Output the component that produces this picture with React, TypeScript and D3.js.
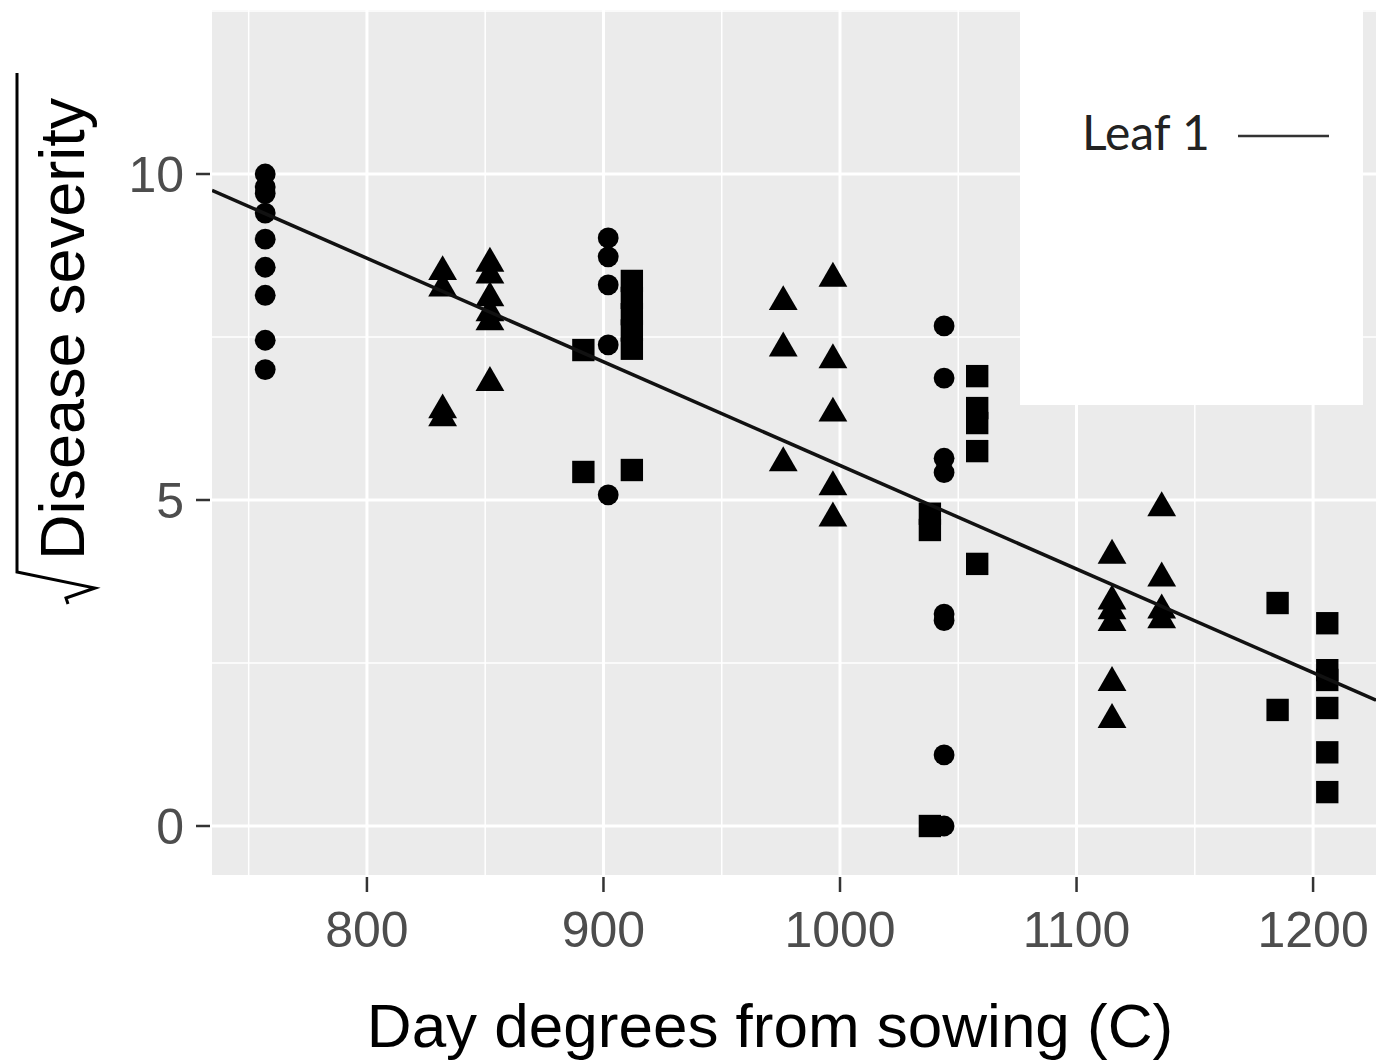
import React from "react";
import * as d3 from "d3";

// Day degrees (x) and square-root disease severity (y), one pair of arrays per marker shape
const circleDays = [757, 757, 757, 757, 757, 757, 757, 757, 757, 902, 902, 902, 902, 902, 1044, 1044, 1044, 1044, 1044, 1044, 1044, 1044];
const circleSeverity = [10.0, 9.8, 9.7, 9.4, 9.0, 8.57, 8.14, 7.45, 7.0, 9.02, 8.73, 8.3, 7.38, 5.08, 7.67, 6.87, 5.64, 5.42, 3.25, 3.15, 1.09, 0];

const triangleDays = [832, 832, 832, 832, 852, 852, 852, 852, 852, 852, 976, 976, 976, 997, 997, 997, 997, 997, 1115, 1115, 1115, 1115, 1115, 1115, 1136, 1136, 1136, 1136];
const triangleSeverity = [8.5, 8.25, 6.38, 6.26, 8.63, 8.45, 8.1, 7.87, 7.73, 6.8, 8.04, 7.33, 5.57, 8.4, 7.15, 6.33, 5.2, 4.72, 4.15, 3.45, 3.3, 3.12, 2.2, 1.63, 4.88, 3.8, 3.31, 3.16];

const squareDays = [891.5, 891.5, 912, 912, 912, 912, 912, 912, 1038, 1038, 1038, 1058, 1058, 1058, 1058, 1058, 1185, 1185, 1206, 1206, 1206, 1206, 1206, 1206];
const squareSeverity = [7.3, 5.43, 8.36, 8.1, 7.85, 7.6, 7.32, 5.46, 4.79, 4.54, 0, 6.9, 6.41, 6.18, 5.75, 4.02, 3.42, 1.78, 3.11, 2.39, 2.24, 1.81, 1.13, 0.52];

// Fitted regression line: severity = intercept + slope * day degrees
const fitIntercept = 21.42;
const fitSlope = -0.01589;

const xMajorTicks = [800, 900, 1000, 1100, 1200];
const xMinorTicks = [750, 850, 950, 1050, 1150];
const yMajorTicks = [0, 5, 10];
const yMinorTicks = [2.5, 7.5, 12.5];

const legendLabel = "Leaf 1";
const xTitle = "Day degrees from sowing (C)";
const yTitle = "Disease severity";

const W = 1376;
const H = 1064;
const panel = { left: 212, right: 1376, top: 10, bottom: 875 };

export default function App() {
  const x = d3.scaleLinear().domain([734.5, 1226.6]).range([panel.left, panel.right]);
  const y = d3.scaleLinear().domain([0, 10]).range([826, 174]);
  const xDomain = x.domain();

  const circlePath = d3.symbol().type(d3.symbolCircle).size(340)()!;
  const trianglePath = d3.symbol().type(d3.symbolTriangle).size(360)()!;
  const squarePath = d3.symbol().type(d3.symbolSquare).size(500)()!;

  const fitLine = d3.line<number>()
    .x((d) => x(d))
    .y((d) => y(fitIntercept + fitSlope * d));

  const tickFont = "'Liberation Sans', Arial, sans-serif";

  return (
    <svg width={W} height={H} style={{ position: "absolute", left: 0, top: 0, background: "#fff" }}>
      <defs>
        <clipPath id="panelClip">
          <rect x={panel.left} y={panel.top} width={panel.right - panel.left} height={panel.bottom - panel.top} />
        </clipPath>
      </defs>
      <rect x={panel.left} y={panel.top} width={panel.right - panel.left} height={panel.bottom - panel.top} fill="#ebebeb" />
      <g clipPath="url(#panelClip)">
        {xMinorTicks.map((t) => (
          <line key={"xm" + t} x1={x(t)} x2={x(t)} y1={panel.top} y2={panel.bottom} stroke="#fff" strokeWidth={1.5} />
        ))}
        {yMinorTicks.map((t) => (
          <line key={"ym" + t} x1={panel.left} x2={panel.right} y1={y(t)} y2={y(t)} stroke="#fff" strokeWidth={1.5} />
        ))}
        {xMajorTicks.map((t) => (
          <line key={"xM" + t} x1={x(t)} x2={x(t)} y1={panel.top} y2={panel.bottom} stroke="#fff" strokeWidth={3} />
        ))}
        {yMajorTicks.map((t) => (
          <line key={"yM" + t} x1={panel.left} x2={panel.right} y1={y(t)} y2={y(t)} stroke="#fff" strokeWidth={3} />
        ))}
        {circleDays.map((d, i) => (
          <path key={"c" + i} d={circlePath} transform={`translate(${x(d)},${y(circleSeverity[i])})`} fill="#000" />
        ))}
        {triangleDays.map((d, i) => (
          <path key={"t" + i} d={trianglePath} transform={`translate(${x(d)},${y(triangleSeverity[i])})`} fill="#000" />
        ))}
        {squareDays.map((d, i) => (
          <path key={"s" + i} d={squarePath} transform={`translate(${x(d)},${y(squareSeverity[i])})`} fill="#000" />
        ))}
        <path d={fitLine(xDomain) || ""} fill="none" stroke="#111" strokeWidth={3.5} />
      </g>

      {/* y axis ticks and labels */}
      {yMajorTicks.map((t) => (
        <g key={"yt" + t}>
          <line x1={196} x2={210} y1={y(t)} y2={y(t)} stroke="#333" strokeWidth={2.5} />
          <text x={184} y={y(t)} dy="0.36em" textAnchor="end" fontFamily={tickFont} fontSize={50} fill="#4d4d4d">{t}</text>
        </g>
      ))}
      {/* x axis ticks and labels */}
      {xMajorTicks.map((t) => (
        <g key={"xt" + t}>
          <line x1={x(t)} x2={x(t)} y1={877} y2={892} stroke="#333" strokeWidth={2.5} />
          <text x={x(t)} y={947} textAnchor="middle" fontFamily={tickFont} fontSize={50} fill="#4d4d4d">{t}</text>
        </g>
      ))}

      {/* axis titles */}
      <text x={770} y={1047} textAnchor="middle" fontFamily={tickFont} fontSize={62} fill="#000">{xTitle}</text>
      <text transform="translate(84,560) rotate(-90)" textAnchor="start" fontFamily={tickFont} fontSize={63} fill="#000">{yTitle}</text>
      <path d="M17,73 L17,572 L95,588 L66,598 L68,604" fill="none" stroke="#000" strokeWidth={3} strokeLinejoin="miter" />

      {/* legend */}
      <rect x={1020} y={0} width={343} height={405} fill="#fff" />
      <text x={1082} y={150} fontFamily="Lato, 'Open Sans', sans-serif" fontSize={48} fill="#222">{legendLabel}</text>
      <line x1={1238} x2={1329} y1={136} y2={136} stroke="#333" strokeWidth={2.5} />
    </svg>
  );
}
